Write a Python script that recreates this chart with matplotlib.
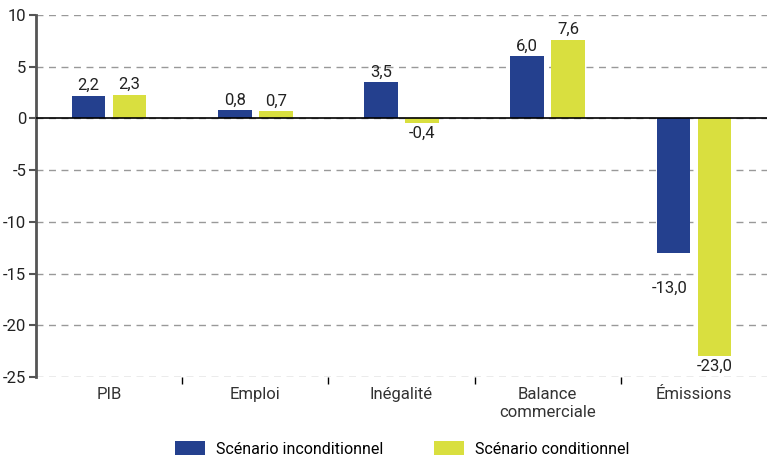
import numpy as np
import matplotlib.pyplot as plt

# données
categories = ["PIB", "Emploi", "Inégalité", "Balance\ncommerciale", "Émissions"]
inconditionnel = [2.2, 0.8, 3.5, 6.0, -13.0]
conditionnel = [2.3, 0.7, -0.4, 7.6, -23.0]
noms_series = ["Scénario inconditionnel", "Scénario conditionnel"]

bleu = "#24408e"
jaune = "#d9df3f"

plt.rcParams['font.family'] = ['Roboto', 'DejaVu Sans']

fig = plt.figure(figsize=(7.67, 4.59), dpi=100)
ax = fig.add_axes([36 / 767, 1 - 377 / 459, 1 - 36 / 767, (377 - 15) / 459])

x = np.arange(len(categories))
larg = 0.23
b1 = ax.bar(x - 0.14, inconditionnel, larg, color=bleu, label=noms_series[0], zorder=3)
b2 = ax.bar(x + 0.14, conditionnel, larg, color=jaune, label=noms_series[1], zorder=3)

def etiquettes(barres, valeurs, dy_neg=-2):
    for b, v in zip(barres, valeurs):
        txt = f"{v:.1f}".replace(".", ",")
        cx = b.get_x() + b.get_width() / 2
        if v >= 0:
            ax.annotate(txt, (cx, v), xytext=(0, 2), textcoords="offset points",
                        ha="center", va="bottom", fontsize=12, color="#222222")
        else:
            # l'étiquette de -13 est plus bas dans l'original
            off = -20 if v == -13.0 else dy_neg
            ax.annotate(txt, (cx, v), xytext=(-3 if v == -13.0 else 0, off),
                        textcoords="offset points",
                        ha="center", va="top", fontsize=12, color="#222222")

etiquettes(b1, inconditionnel)
etiquettes(b2, conditionnel)

ax.set_xlim(-0.5, len(categories) - 0.5)
ax.set_ylim(-25, 10)
ax.set_yticks(range(-25, 11, 5))
ax.set_yticklabels([str(v) for v in range(-25, 11, 5)], fontsize=12, color="#222222")
ax.yaxis.grid(True, linestyle=(0, (5, 4)), color="#999999", linewidth=1, zorder=0)
ax.axhline(0, color="black", linewidth=1.2, zorder=4)

ax.set_xticks(x)
ax.set_xticklabels(categories, fontsize=12, color="#333333", linespacing=1.25)
ax.tick_params(axis="x", length=0, pad=7)
ax.set_xticks(np.arange(0.5, len(categories) - 1, 1), minor=True)
ax.tick_params(axis="x", which="minor", length=5, width=1, color="black")
ax.tick_params(axis="y", length=5, width=1.5, color="#555555", pad=2)

for s in ["top", "right", "bottom"]:
    ax.spines[s].set_visible(False)
ax.spines["left"].set_color("#555555")
ax.spines["left"].set_linewidth(2)

fig.legend(handles=[b1, b2], loc="lower center", bbox_to_anchor=(402 / 767, -0.026), ncol=2,
           frameon=False, fontsize=11.5, handlelength=1.9, handleheight=1.0,
           columnspacing=3.2, handletextpad=0.65)

fig.savefig("out.png", dpi=100)
